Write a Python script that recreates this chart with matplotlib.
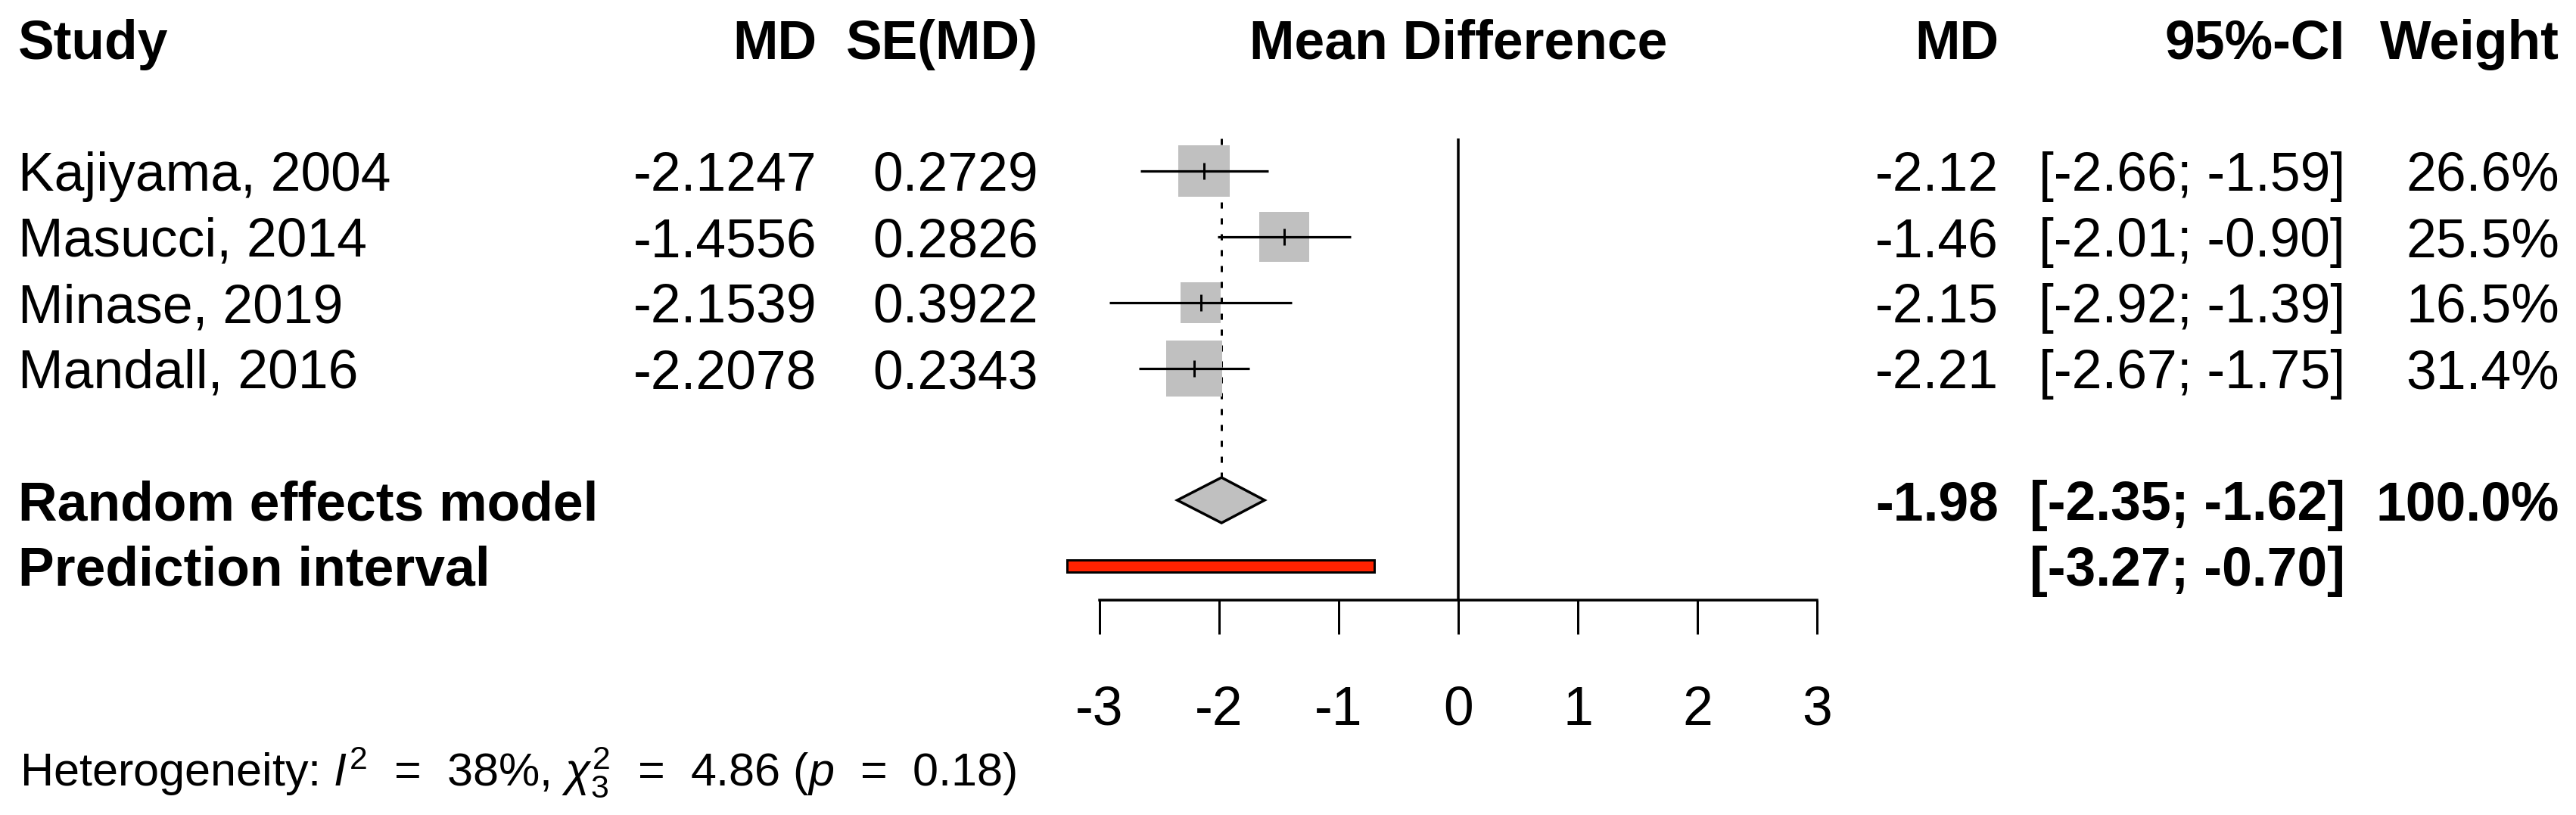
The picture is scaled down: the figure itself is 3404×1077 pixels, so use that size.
import numpy as np
import matplotlib
matplotlib.use("Agg")
import matplotlib.pyplot as plt
from matplotlib.patches import Rectangle, Polygon
from matplotlib.transforms import blended_transform_factory

plt.rcParams['font.family'] = ['Liberation Sans', 'DejaVu Sans']
plt.rcParams['mathtext.fontset'] = 'custom'
plt.rcParams['mathtext.rm'] = 'Liberation Sans'
plt.rcParams['mathtext.it'] = 'Liberation Sans:italic'
plt.rcParams['mathtext.bf'] = 'Liberation Sans:bold'

# ---------------- data ----------------
studies = ["Kajiyama, 2004", "Masucci, 2014", "Minase, 2019", "Mandall, 2016"]
md = [-2.1247, -1.4556, -2.1539, -2.2078]
se = [0.2729, 0.2826, 0.3922, 0.2343]
ci_lo = [-2.66, -2.01, -2.92, -2.67]
ci_hi = [-1.59, -0.90, -1.39, -1.75]
weights = [26.6, 25.5, 16.5, 31.4]
re_md, re_lo, re_hi = -1.98, -2.35, -1.62
pi_lo, pi_hi = -3.27, -0.70
xticks = [-3, -2, -1, 0, 1, 2, 3]
het_text = r"Heterogeneity: $I^2$  =  38%, $\chi^2_3$  =  4.86 ($p$  =  0.18)"

# ---------------- layout ----------------
W, H = 3404, 1077
DPI = 100
fig = plt.figure(figsize=(W / DPI, H / DPI), dpi=DPI)

row0_px, row_px = 52.0, 87.0          # pixel of row 0 and row spacing
zero_px, unit_px = 1927.0, 158.0       # pixel of MD=0 and px per unit
half = 3.5
left_px = zero_px - half * unit_px
ax = fig.add_axes([left_px / W, 0, 2 * half * unit_px / W, 1])
ax.set_xlim(-half, half)
ax.set_ylim((H - row0_px) / row_px, -row0_px / row_px)
ax.patch.set_visible(False)

study_rows = [2, 3, 4, 5]
re_row = 7
pi_row = 8
axis_row = (793 - row0_px) / row_px

px = lambda p: p * 72.0 / DPI  # pixels -> points
FS = 51.5
FS_HET = 44

# zero line
ax.plot([0, 0], [1.5, axis_row], color='black', lw=px(3.5), solid_capstyle='butt', zorder=1)
# random-effects dotted line
ax.plot([re_md, re_md], [1.5, re_row - 30 / row_px], color='black', lw=px(3),
        dashes=(2.7, 4.3), zorder=1)

# studies
for r, m, lo, hi, w in zip(study_rows, md, ci_lo, ci_hi, weights):
    side = 13.2 * np.sqrt(w)
    dx, dy = side / unit_px, side / row_px
    ax.add_patch(Rectangle((m - dx / 2, r - dy / 2), dx, dy, facecolor='#c0c0c0',
                           edgecolor='none', zorder=2))
    ax.plot([lo, hi], [r, r], color='black', lw=px(3.2), solid_capstyle='butt', zorder=3)
    ax.plot([m, m], [r - 11 / row_px, r + 11 / row_px], color='black', lw=px(3),
            solid_capstyle='butt', zorder=3)

# diamond
dh = 30 / row_px
ax.add_patch(Polygon([(re_lo, re_row), (re_md, re_row - dh), (re_hi, re_row), (re_md, re_row + dh)],
                     closed=True, facecolor='#c0c0c0', edgecolor='black', lw=px(3.5), zorder=3))
# prediction interval
ph = 16 / row_px
ax.add_patch(Rectangle((pi_lo, pi_row - ph / 2), pi_hi - pi_lo, ph, facecolor='#ff2200',
                       edgecolor='black', lw=px(3), zorder=3))

# axis
for s in ['top', 'left', 'right']:
    ax.spines[s].set_visible(False)
ax.spines['bottom'].set_position(('data', axis_row))
ax.spines['bottom'].set_bounds(xticks[0], xticks[-1])
ax.spines['bottom'].set_linewidth(px(3.5))
ax.set_xticks(xticks)
ax.set_xticklabels([str(t) for t in xticks])
ax.tick_params(axis='x', direction='out', length=px(45), width=px(3), pad=px(68),
               labelsize=FS)
ax.set_yticks([])

# ---------------- text columns ----------------
tr = blended_transform_factory(fig.transFigure, ax.transData)
bl = 26 / row_px  # baseline offset from row centre


def put(xpx, row, s, ha, bold=False, fs=FS):
    ax.text(xpx / W, row + bl, s, transform=tr, ha=ha, va='baseline', fontsize=fs,
            fontweight='bold' if bold else 'normal')


x_study, x_md, x_se, x_mean, x_md2, x_ci, x_w = 24, 1079, 1372, 1927, 2641, 3099, 3382

put(x_study, 0, "Study", 'left', True)
put(x_md, 0, "MD", 'right', True)
put(x_se, 0, "SE(MD)", 'right', True)
put(x_mean, 0, "Mean Difference", 'center', True)
put(x_md2, 0, "MD", 'right', True)
put(x_ci, 0, "95%-CI", 'right', True)
put(x_w, 0, "Weight", 'right', True)

for r, name, m, s, lo, hi, w in zip(study_rows, studies, md, se, ci_lo, ci_hi, weights):
    put(x_study, r, name, 'left')
    put(x_md, r, f"{m:.4f}", 'right')
    put(x_se, r, f"{s:.4f}", 'right')
    put(x_md2, r, f"{m:.2f}", 'right')
    put(x_ci, r, f"[{lo:.2f}; {hi:.2f}]", 'right')
    put(x_w, r, f"{w:.1f}%", 'right')

put(x_study, re_row, "Random effects model", 'left', True)
put(x_md2, re_row, f"{re_md:.2f}", 'right', True)
put(x_ci, re_row, f"[{re_lo:.2f}; {re_hi:.2f}]", 'right', True)
put(x_w, re_row, f"{sum(weights):.1f}%", 'right', True)

put(x_study, pi_row, "Prediction interval", 'left', True)
put(x_ci, pi_row, f"[{pi_lo:.2f}; {pi_hi:.2f}]", 'right', True)

fig.text(26 / W, 1 - 1038 / H, het_text, ha='left', va='baseline', fontsize=FS_HET)

fig.savefig("out.png", dpi=DPI)
